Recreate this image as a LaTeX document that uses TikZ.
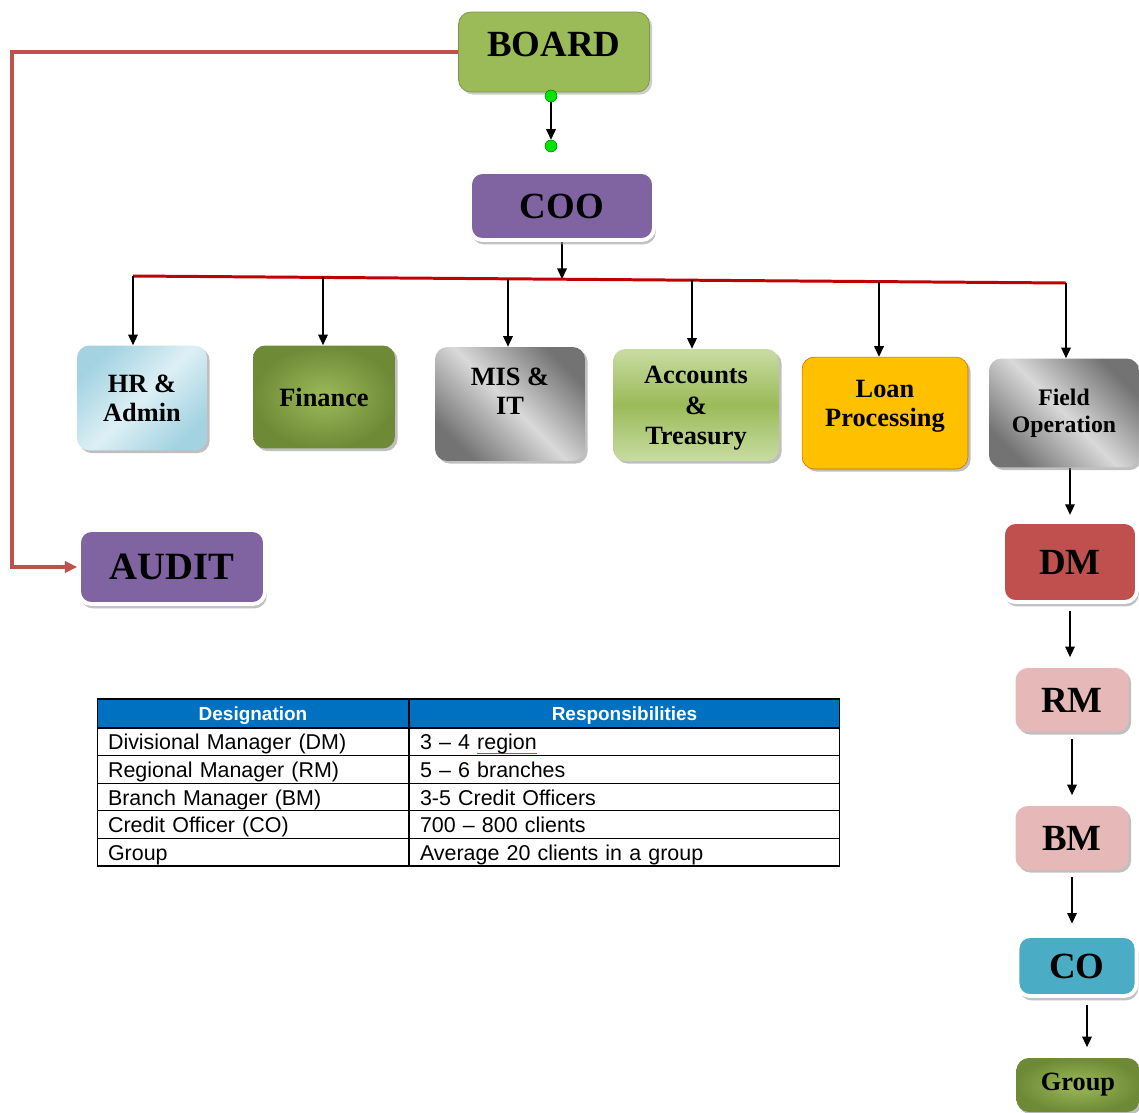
\documentclass[tikz,border=0pt]{standalone}
\usepackage{fontspec}
\setmainfont[Ligatures=TeX]{Liberation Serif}
\newfontfamily\tabfont[Ligatures=TeX]{Liberation Sans}
\usetikzlibrary{arrows.meta,shadows}
\pgfdeclarelayer{bg}
\pgfsetlayers{bg,main}
\definecolor{boardgreen}{HTML}{9BBB59}
\definecolor{coopurple}{HTML}{8064A2}
\definecolor{barred}{HTML}{C00000}
\definecolor{auditred}{HTML}{C0504D}
\definecolor{olivedark}{HTML}{6E8A36}
\definecolor{olivelight}{HTML}{9CBA5A}
\definecolor{hrblue}{HTML}{A3D3E1}
\definecolor{hrlight}{HTML}{DDEFF5}
\definecolor{acclight}{HTML}{C8DCA2}
\definecolor{loanyellow}{HTML}{FFC000}
\definecolor{pinkbox}{HTML}{E6B9B8}
\definecolor{cocyan}{HTML}{4BACC6}
\definecolor{tabblue}{HTML}{0070C0}
\definecolor{spellblue}{HTML}{3B6FD6}
\newcommand{\spellmark}[1]{\setbox0\hbox{#1}\rlap{\color{spellblue}\rule[-0.35ex]{\wd0}{0.7pt}}\box0}
\tikzset{
    box/.style={rectangle, rounded corners=7pt, align=center, inner sep=1mm,
        font=\bfseries\fontsize{15}{16.5}\selectfont},
    plain/.style={box, drop shadow={shadow xshift=1.5pt, shadow yshift=-1.5pt, fill=black!50, opacity=.5}},
    framed/.style={box, draw=white, line width=2.2pt,
        drop shadow={shadow xshift=1pt, shadow yshift=-2.5pt, fill=black!40, opacity=.6}},
    big/.style={font=\bfseries\fontsize{21}{24}\selectfont},
    greydiag/.style={top color=black!55, bottom color=black!55, middle color=black!15, shading angle=-45},
    greendot/.style={circle, inner sep=0pt, minimum size=0.24cm, fill=green!90!black, draw=green!45!black, line width=0.3pt},
    tip/.style={-{Triangle[length=6pt,width=5.5pt]}, line width=0.7pt},
    gap/.style={shorten <=4pt, shorten >=6pt},
    redbar/.style={barred, line width=1.7pt},
    auditline/.style={auditred, line width=2pt, -{Triangle[length=7pt,width=6.5pt]}},
    cell/.style={rectangle, draw=black, line width=0.6pt, minimum height=0.552cm, inner ysep=0pt,
        inner xsep=0.22cm, align=left, text height=0.38cm, text depth=0.06cm,
        font=\tabfont\fontsize{12.2}{14}\selectfont},
    cola/.style={cell, text width=5.8cm},
    colb/.style={cell, text width=8.18cm},
    head/.style={fill=tabblue, text=white, align=center, minimum height=0.58cm,
        text height=0.36cm, text depth=0.08cm,
        font=\tabfont\bfseries\fontsize{10.8}{13}\selectfont}
}

\begin{document}
\begin{tikzpicture}[x=0.02cm, y=-0.02cm]
    \useasboundingbox (0,0) rectangle (1139,1112);

    % top of the chart
    \node (board) [box, big, fill=boardgreen, draw=boardgreen!80!black, line width=0.4pt,
        minimum width=3.82cm, minimum height=1.6cm, text depth=0.3cm,
        drop shadow={shadow xshift=1.5pt, shadow yshift=-1.5pt, fill=black!40, opacity=.5}] at (554, 52) {BOARD};
    \node (dotA) [greendot] at (551, 96) {};
    \node (dotB) [greendot] at (551, 146) {};
    \node (coo) [framed, big, fill=coopurple, minimum width=3.68cm, minimum height=1.36cm] at (562, 206) {COO};

    \node (audit) [framed, font=\bfseries\fontsize{22}{24}\selectfont, fill=coopurple,
        minimum width=3.72cm, minimum height=1.48cm] at (172, 567) {AUDIT};
    \coordinate (corner) at (12, 52);

    % departments
    \node (hr) [plain, top color=hrblue, bottom color=hrblue, middle color=hrlight, shading angle=45,
        minimum width=2.6cm, minimum height=2.1cm] at (142, 398) {HR \&\\Admin};
    \node (fin) [plain, inner color=olivelight, outer color=olivedark,
        minimum width=2.84cm, minimum height=2.06cm] at (324, 397) {Finance};
    \node (mis) [plain, greydiag, minimum width=3.0cm, minimum height=2.28cm] at (510, 404) {MIS \&\\IT\\[-0.1em]\mbox{}};
    \node (acc) [plain, top color=acclight, bottom color=acclight, middle color=boardgreen,
        font=\bfseries\fontsize{15}{17.4}\selectfont,
        minimum width=3.32cm, minimum height=2.24cm] at (696, 405) {Accounts\\\&\\Treasury\\[-1.2em]\mbox{}};
    \node (loan) [plain, fill=loanyellow, draw=orange!80!black, line width=0.3pt,
        minimum width=3.32cm, minimum height=2.24cm] at (885, 413) {Loan\\Processing\\[-0.4em]\mbox{}};
    \node (field) [plain, greydiag, font=\bfseries\fontsize{13.5}{15.5}\selectfont,
        minimum width=3.0cm, minimum height=2.18cm] at (1064, 413) {Field\\Operation};

    \coordinate (barL) at (133, 276);
    \coordinate (barR) at (1066, 283);
    \coordinate (barC) at (562, 279);
    \coordinate (bFin) at (323, 277);
    \coordinate (bMis) at (508, 279);
    \coordinate (bAcc) at (692, 280);
    \coordinate (bLoan) at (879, 282);

    % field chain
    \node (dm) [framed, big, fill=auditred, minimum width=2.68cm, minimum height=1.6cm] at (1070, 562) {DM};
    \node (rm) [plain, big, fill=pinkbox, minimum width=2.26cm, minimum height=1.28cm] at (1072, 700) {RM};
    \node (bm) [plain, big, fill=pinkbox, minimum width=2.26cm, minimum height=1.28cm] at (1072, 838) {BM};
    \node (co) [framed, big, fill=cocyan, minimum width=2.38cm, minimum height=1.2cm] at (1077, 966) {CO};
    \node (group) [plain, inner color=olivelight, outer color=olivedark,
        minimum width=2.46cm, minimum height=1.08cm] at (1078, 1085) {Group};
    \coordinate (coTip) at (1087, 998);

    \begin{pgfonlayer}{bg}
        \draw (dotA) edge[tip] (dotB);
        \draw[auditline] (board.west) -- (corner) |- (audit.west);

        \draw (coo) edge[tip] (barC);
        \draw[redbar] (barL) -- (barR);
        \draw (barL) edge[tip] (barL |- hr.north);
        \draw (bFin) edge[tip] (bFin |- fin.north);
        \draw (bMis) edge[tip] (bMis |- mis.north);
        \draw (bAcc) edge[tip] (bAcc |- acc.north);
        \draw (bLoan) edge[tip] (bLoan |- loan.north);
        \draw (barR) edge[tip] (barR |- field.north);

        \draw (dm |- field.south) edge[tip, shorten >=5pt] ([yshift=-2pt]dm.north);
        \draw (dm.south) edge[tip, gap] (dm.south |- rm.north);
        \draw (rm.south) edge[tip, gap] (bm.north);
        \draw (bm.south) edge[tip, gap] (bm.south |- co.north);
        \draw (coTip) edge[tip, gap] (coTip |- group.north);
    \end{pgfonlayer}

    % table
    \node (hdes) [cola, head] at (253, 713.5) {Designation};
    \node (hres) [colb, head] at (624.5, 713.5) {Responsibilities};
    \node (d1) [cola] at (253, 741.8) {Divisional Manager (DM)};
    \node (r1) [colb] at (624.5, 741.8) {3 -- 4 \spellmark{region}};
    \node (d2) [cola] at (253, 769.4) {Regional Manager (RM)};
    \node (r2) [colb] at (624.5, 769.4) {5 -- 6 branches};
    \node (d3) [cola] at (253, 797) {Branch Manager (BM)};
    \node (r3) [colb] at (624.5, 797) {3-5 Credit Officers};
    \node (d4) [cola] at (253, 824.6) {Credit Officer (CO)};
    \node (r4) [colb] at (624.5, 824.6) {700 -- 800 clients};
    \node (d5) [cola] at (253, 852.2) {Group};
    \node (r5) [colb] at (624.5, 852.2) {Average 20 clients in a group};
\end{tikzpicture}
\end{document}
